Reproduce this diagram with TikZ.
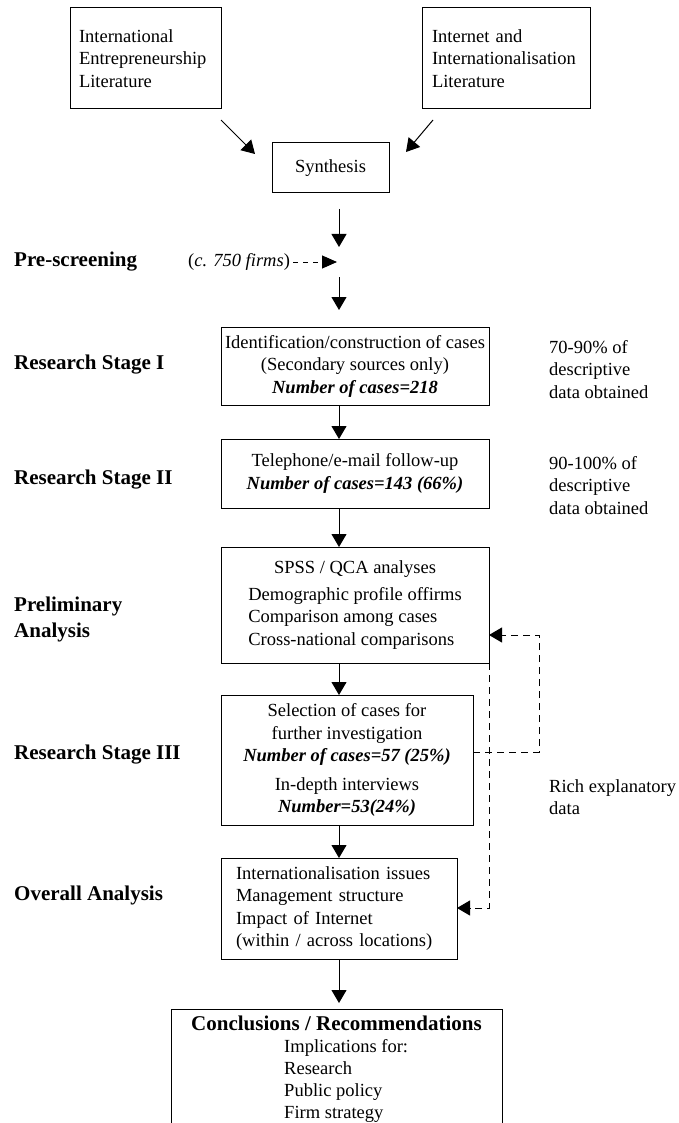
\documentclass[tikz,border=0pt]{standalone}
\usepackage{fontspec}
\setmainfont{Liberation Serif}
\usetikzlibrary{arrows.meta}
\begin{document}
\begin{tikzpicture}[x=1pt,y=-1pt,
  box/.style={draw, line width=1pt, inner sep=0pt, outer sep=0pt,
    font=\fontsize{18.5}{22.5}\selectfont, align=center},
  lbox/.style={box, align=left},
  stage/.style={anchor=west, inner sep=0pt, align=left,
    font=\fontsize{21}{26}\selectfont\bfseries},
  note/.style={anchor=west, inner sep=0pt, align=left,
    font=\fontsize{18.5}{22.5}\selectfont},
  arr/.style={line width=1pt, -{Triangle[length=13pt,width=15pt]}},
  dasharr/.style={arr, dash pattern=on 7pt off 5pt},
]
\useasboundingbox (0,0) rectangle (678,1123);
\clip (0,0) rectangle (678,1123);

% literature sources and synthesis
\node[lbox, inner xsep=9pt, text width=133pt, minimum height=101pt] (lit1)
  at (145.5,58.5) {International\\Entrepreneurship\\Literature};
\node[lbox, inner xsep=10pt, text width=148pt, minimum height=101pt] (lit2)
  at (506,58.5) {Internet and\\Internationalisation\\Literature};
\node[box, minimum width=117pt, minimum height=50pt] (syn) at (330.5,168) {Synthesis};

\coordinate (d1s) at (221,120); \coordinate (d1e) at (255,154);
\coordinate (d2s) at (433,120); \coordinate (d2e) at (406,152);
\draw[arr] (d1s) -- (d1e);
\draw[arr] (d2s) -- (d2e);

% main spine of the process
\coordinate (spine) at (339,0);
\coordinate (pscr) at (339,262);

% pre-screening
\node[stage] (lpre) at (14,262) {Pre-screening};
\node[note] (firms) at (188,262) {(\textit{c. 750 firms})};

% research stage I
\node[box, minimum width=268pt, minimum height=78pt] (s1) at (355,366)
  {Identification/construction of cases\\(Secondary sources only)\\\textbf{\textit{Number of cases=218}}};
\node[stage] (ls1) at (14,365) {Research Stage I};
\node[note] (n1) at (549,369.5) {70-90\% of\\descriptive\\data obtained};

% research stage II
\node[box, minimum width=268pt, minimum height=69pt] (s2) at (355,473.5)
  {Telephone/e-mail follow-up\\\textbf{\textit{Number of cases=143 (66\%)}}};
\node[stage] (ls2) at (14,480) {Research Stage II};
\node[note] (n2) at (549,485.5) {90-100\% of\\descriptive\\data obtained};

% preliminary analysis
\node[box, minimum width=268pt, minimum height=116pt] (pa) at (355,605)
  {\begin{tabular}{@{}l@{}}\multicolumn{1}{@{}c@{}}{SPSS / QCA analyses}\\[4pt]
   Demographic profile offirms\\Comparison among cases\\Cross-national comparisons\end{tabular}};
\node[stage] (lpa) at (14,619) {Preliminary\\Analysis};

% research stage III
\node[box, minimum width=252pt, minimum height=130pt] (s3) at (347,760)
  {Selection of cases for\\further investigation\\\textbf{\textit{Number of cases=57 (25\%)}}\\[6pt]
   In-depth interviews\\\textbf{\textit{Number=53(24\%)}}};
\node[stage] (ls3) at (14,755) {Research Stage III};
\node[note] (n3) at (549,797) {Rich explanatory\\data};

% overall analysis
\node[lbox, inner xsep=15pt, text width=206pt, minimum height=101pt] (oa) at (339,908.5)
  {Internationalisation issues\\Management structure\\Impact of Internet\\(within / across locations)};
\node[stage] (loa) at (14,895) {Overall Analysis};

% conclusions
\node[draw, line width=1pt, minimum width=331pt, minimum height=160pt, anchor=north,
  inner sep=0pt, outer sep=0pt] (concl) at (336.5,1009) {};
\node[anchor=base, inner sep=0pt, font=\fontsize{18.5}{22}\selectfont] (concltxt) at (336.5,1030)
  {\begin{tabular}[t]{@{}l@{}}\multicolumn{1}{@{}c@{}}{\fontsize{21}{22}\selectfont\bfseries Conclusions / Recommendations}\\
   \hspace{93pt}Implications for:\\\hspace{93pt}Research\\\hspace{93pt}Public policy\\\hspace{93pt}Firm strategy\end{tabular}};

% flow arrows
\draw[arr, shorten <=16pt, shorten >=15pt] (syn.south -| spine) -- (pscr);
\draw[arr, shorten <=15pt, shorten >=17pt] (pscr) -- (s1.north -| spine);
\draw[line width=1pt, dash pattern=on 5pt off 5pt, -{Triangle[length=15pt,width=13pt]},
  shorten <=3pt, shorten >=2pt] (firms.east) -- (pscr);
\draw[arr] (s1.south -| spine) -- (s2.north -| spine);
\draw[arr] (s2.south -| spine) -- (pa.north -| spine);
\draw[arr] (pa.south -| spine) -- (s3.north -| spine);
\draw[arr] (s3.south -| spine) -- (oa.north -| spine);
\draw[arr, shorten >=6pt] (oa.south -| spine) -- (concl.north -| spine);

% feedback loops
\coordinate (fbr) at (539,752);
\coordinate (fbt) at (539,635);
\coordinate (fbd) at (489,908);
\draw[dasharr] (s3.east |- fbr) -- (fbr) -- (fbt) -- (pa.east |- fbt);
\draw[dasharr] (pa.south east) -- (fbd) -- (oa.east |- fbd);
\end{tikzpicture}
\end{document}
